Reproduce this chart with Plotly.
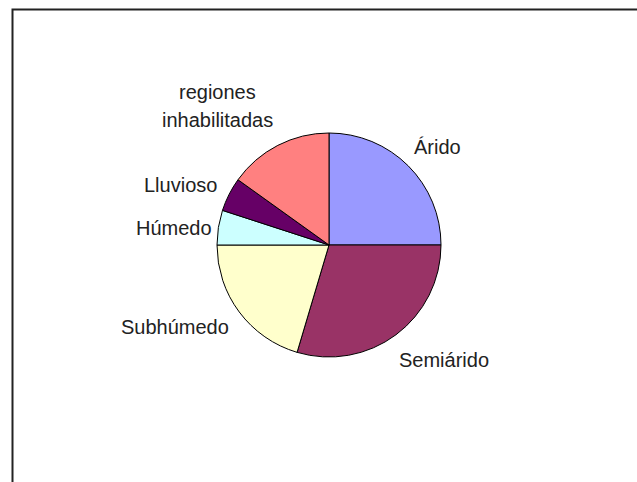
import plotly.graph_objects as go

W, H = 637, 482

# Data (percent of total)
categories = ["Árido", "Semiárido", "Subhúmedo", "Húmedo", "Lluvioso", "regiones inhabilitadas"]
values = [25.0, 29.6, 20.4, 5.0, 4.9, 15.1]
colors = ["#9999FF", "#993366", "#FFFFCC", "#CCFFFF", "#660066", "#FF8080"]

# Layout: pie centre / radius in px, label centres in px
cx, cy, r = 329, 245, 112
label_pos = {
    "Árido": (437, 147),
    "Semiárido": (444, 360),
    "Subhúmedo": (175, 327),
    "Húmedo": (174, 228),
    "Lluvioso": (180, 185),
    "regiones inhabilitadas": (217, 106),
}
line_gap = 28

fig = go.Figure()
fig.add_trace(go.Pie(
    labels=categories,
    values=values,
    sort=False,
    direction="clockwise",
    rotation=0,
    textinfo="none",
    hoverinfo="label+percent",
    showlegend=False,
    marker=dict(colors=colors, line=dict(color="#000000", width=1)),
    domain=dict(x=[(cx - r) / W, (cx + r) / W], y=[1 - (cy + r) / H, 1 - (cy - r) / H]),
))

for cat in categories:
    px, py = label_pos[cat]
    words = cat.split(" ")
    n = len(words)
    for i, w in enumerate(words):
        ly = py + (i - (n - 1) / 2) * line_gap
        fig.add_annotation(
            x=px / W, y=1 - ly / H, xref="paper", yref="paper",
            text=w, showarrow=False,
            xanchor="center", yanchor="middle",
            font=dict(family="Liberation Sans, Arial, sans-serif", size=20, color="#222222"),
        )

# Chart-area frame (runs off the right and bottom edges)
fig.add_shape(type="rect", xref="paper", yref="paper",
              x0=12.5 / W, x1=1.05, y0=-0.05, y1=1 - 9.5 / H,
              line=dict(color="#222222", width=2), fillcolor="rgba(0,0,0,0)")

fig.update_layout(
    width=W, height=H,
    margin=dict(l=0, r=0, t=0, b=0),
    paper_bgcolor="white", plot_bgcolor="white",
)

fig.write_html("out.html")
